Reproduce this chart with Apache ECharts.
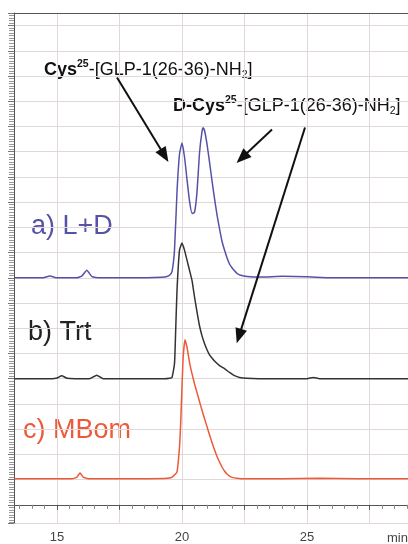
<!DOCTYPE html>
<html>
<head>
<meta charset="utf-8">
<script src="https://cdn.jsdelivr.net/npm/echarts@6/dist/echarts.min.js"></script>
<style>html,body{margin:0;padding:0;background:#fff}#c{width:408px;height:544px}</style>
</head>
<body>
<div id="c"></div>
<script>
// ---- data (time in min, signal in grid units) ----
const xMin = 13.28, xMax = 29.04;
const yMin = -0.72, yMax = 19.5;
const xTickLabels = [15, 20, 25];

const timeA = [13.3, 14.4, 14.72, 15.0, 15.8, 16.0, 16.19, 16.4, 16.7, 18.0, 19.2, 19.4, 19.5, 19.6, 19.7, 19.8, 19.9, 20.0, 20.1, 20.2, 20.3, 20.4, 20.5, 20.6, 20.7, 20.8, 20.85, 20.9, 21.0, 21.1, 21.2, 21.3, 21.4, 21.5, 21.6, 21.7, 21.8, 21.9, 22.0, 22.1, 22.2, 22.35, 22.6, 23.2, 24.0, 25.0, 26.0, 27.5, 29.1];
const signalA = [9.0, 9.0, 9.07, 9.0, 9.0, 9.08, 9.3, 9.05, 9.0, 9.0, 9.02, 9.05, 9.1, 9.25, 10.1, 12.4, 13.9, 14.35, 13.8, 12.9, 12.05, 11.55, 11.6, 12.4, 13.95, 14.8, 14.95, 14.85, 14.3, 13.6, 12.85, 12.15, 11.5, 10.95, 10.45, 10.1, 9.8, 9.55, 9.4, 9.28, 9.18, 9.1, 9.05, 9.03, 9.06, 9.04, 9.0, 9.0, 9.0];

const timeB = [13.3, 14.8, 15.0, 15.19, 15.4, 16.3, 16.59, 16.85, 18.0, 19.3, 19.5, 19.6, 19.7, 19.75, 19.8, 19.9, 20.0, 20.1, 20.2, 20.3, 20.4, 20.5, 20.6, 20.7, 20.8, 20.9, 21.0, 21.1, 21.2, 21.3, 21.5, 21.7, 21.9, 22.1, 22.3, 22.6, 23.5, 25.0, 25.25, 25.5, 27.0, 29.1];
const signalB = [5.0, 5.0, 5.03, 5.12, 5.02, 5.0, 5.14, 5.0, 5.0, 5.0, 5.02, 5.05, 5.6, 7.0, 8.5, 10.1, 10.38, 10.1, 9.7, 9.3, 8.9, 8.25, 7.65, 7.1, 6.7, 6.4, 6.15, 5.95, 5.82, 5.7, 5.52, 5.4, 5.25, 5.12, 5.05, 5.02, 5.0, 5.0, 5.05, 5.0, 5.0, 5.0];

const timeC = [13.3, 15.6, 15.8, 15.92, 16.05, 16.3, 18.0, 19.3, 19.5, 19.6, 19.7, 19.8, 19.9, 19.95, 20.0, 20.05, 20.12, 20.2, 20.3, 20.4, 20.5, 20.6, 20.7, 20.8, 20.9, 21.0, 21.1, 21.2, 21.3, 21.4, 21.5, 21.6, 21.7, 21.8, 21.9, 22.0, 22.2, 22.5, 24.0, 25.5, 27.0, 29.1];
const signalC = [1.03, 1.03, 1.1, 1.26, 1.1, 1.03, 1.03, 1.04, 1.06, 1.1, 1.18, 1.3, 2.3, 3.3, 4.7, 5.9, 6.55, 6.25, 5.65, 5.2, 4.8, 4.45, 4.1, 3.75, 3.42, 3.1, 2.78, 2.47, 2.18, 1.92, 1.7, 1.5, 1.34, 1.22, 1.14, 1.09, 1.05, 1.03, 1.03, 1.05, 1.03, 1.03];

const seriesNames = ['a) L+D', 'b) Trt', 'c) MBom'];
// arrows: [startTime, startSignal, endTime, endSignal]
const arrows = [
  [17.4, 16.94, 19.30, 13.85],
  [23.6, 14.88, 22.40, 13.76],
  [24.92, 14.96, 22.28, 6.69]
];

// ---- styles ----
const colA = '#5652a8', colB = '#333333', colC = '#ec5a3a';
const gridCol = '#e2d8d8', axisCol = '#555555';
const FONT = "'Liberation Sans', Arial, sans-serif";

function pairs(t, v) { return t.map((x, i) => [x, v[i]]); }
function annRich() {
  return {
    b: {fontFamily: FONT, fontSize: 18, fontWeight: 'bold', fill: '#111', color: '#111', lineHeight: 22, verticalAlign: 'middle'},
    n: {fontFamily: FONT, fontSize: 18, fill: '#111', color: '#111', lineHeight: 22, verticalAlign: 'middle'},
    sup: {fontFamily: FONT, fontSize: 10.5, fontWeight: 'bold', fill: '#111', color: '#111', lineHeight: 22, verticalAlign: 'top'},
    sub: {fontFamily: FONT, fontSize: 10.5, fill: '#111', color: '#111', lineHeight: 22, verticalAlign: 'bottom'}
  };
}

const chart = echarts.init(document.getElementById('c'), null, {renderer: 'canvas'});
chart.setOption({
  animation: false,
  grid: {left: 14, top: 13, right: 0, bottom: 21, show: false},
  xAxis: [{
    type: 'value', min: xMin, max: xMax, minInterval: 2.5, maxInterval: 2.5,
    axisLine: {show: true, lineStyle: {color: axisCol, width: 1}},
    axisTick: {show: true, length: 5, lineStyle: {color: axisCol}},
    minorTick: {show: true, splitNumber: 5, length: 4, lineStyle: {color: '#888'}},
    splitLine: {show: true, lineStyle: {color: gridCol, width: 1}},
    axisLabel: {
      show: true, showMinLabel: false, showMaxLabel: false, margin: 8,
      color: '#444', fontSize: 13, fontFamily: FONT,
      formatter: v => xTickLabels.indexOf(Math.round(v * 100) / 100) >= 0 ? String(v) : ''
    }
  }, {
    type: 'value', position: 'top', min: xMin, max: xMax,
    axisLine: {show: true, lineStyle: {color: axisCol, width: 1}},
    axisTick: {show: false}, axisLabel: {show: false}, splitLine: {show: false}
  }],
  yAxis: {
    type: 'value', min: yMin, max: yMax, minInterval: 1, maxInterval: 1,
    axisLine: {show: true, lineStyle: {color: axisCol, width: 1}},
    axisTick: {show: true, length: 6, lineStyle: {color: '#777'}},
    minorTick: {show: true, splitNumber: 10, length: 5, lineStyle: {color: '#999'}},
    splitLine: {show: true, lineStyle: {color: gridCol, width: 1}},
    axisLabel: {show: false}
  },
  series: [
    {name: seriesNames[0], type: 'line', data: pairs(timeA, signalA), showSymbol: false, smooth: 0.15,
     lineStyle: {color: colA, width: 1.5, join: 'round'}, z: 3},
    {name: seriesNames[1], type: 'line', data: pairs(timeB, signalB), showSymbol: false, smooth: 0.15,
     lineStyle: {color: colB, width: 1.5, join: 'round'}, z: 3},
    {name: seriesNames[2], type: 'line', data: pairs(timeC, signalC), showSymbol: false, smooth: 0.15,
     lineStyle: {color: colC, width: 1.5, join: 'round'}, z: 3,
     markLine: {
       silent: true, animation: false,
       symbol: ['none', 'triangle'], symbolSize: [12, 15],
       label: {show: false},
       lineStyle: {color: '#111', width: 2, type: 'solid'},
       data: arrows.map(a => [{coord: [a[0], a[1]]}, {coord: [a[2], a[3]]}])
     }}
  ],
  graphic: [
    {type: 'text', x: 31, y: 227, style: {text: seriesNames[0], fill: colA, font: '27px ' + FONT, verticalAlign: 'middle'}},
    {type: 'text', x: 28, y: 333, style: {text: seriesNames[1], fill: '#222', font: '27px ' + FONT, verticalAlign: 'middle'}},
    {type: 'text', x: 23, y: 431, style: {text: seriesNames[2], fill: colC, font: '27px ' + FONT, verticalAlign: 'middle'}},
    {type: 'text', x: 44, y: 70, style: {
      text: '{b|Cys}{sup|25}{n|-[GLP-1(26-36)-NH}{sub|2}{n|]}', verticalAlign: 'middle', rich: annRich()}},
    {type: 'text', x: 173, y: 106, style: {
      text: '{b|D-Cys}{sup|25}{n|-[GLP-1(26-36)-NH}{sub|2}{n|]}', verticalAlign: 'middle', rich: annRich()}},
    {type: 'text', x: 387, y: 538, style: {text: 'min', fill: '#444', font: '13px ' + FONT, verticalAlign: 'middle'}}
  ]
});
</script>
</body>
</html>
